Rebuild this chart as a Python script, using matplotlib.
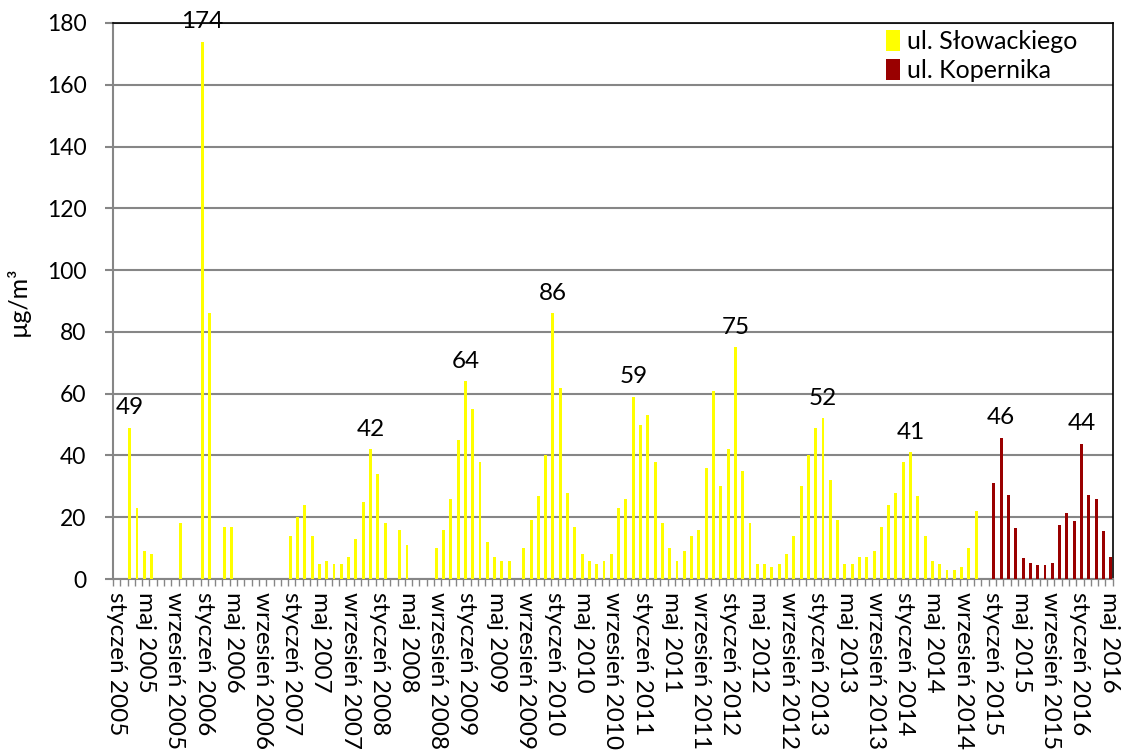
import numpy as np
import matplotlib
matplotlib.use('Agg')
import matplotlib.pyplot as plt

plt.rcParams['font.family'] = ['Lato', 'DejaVu Sans']

months = ['styczeń', 'luty', 'marzec', 'kwiecień', 'maj', 'czerwiec', 'lipiec',
          'sierpień', 'wrzesień', 'październik', 'listopad', 'grudzień']
years = list(range(2005, 2017))
labels = [m + ' ' + str(y) for y in years for m in months][:137]

N = None
slowackiego = [
    N, N, 49, 23, 9, 8, N, N, N, 18, N, N,            # 2005
    174, 86, N, 17, 17, N, N, N, N, N, N, N,          # 2006
    14, 20, 24, 14, 5, 6, 5, 5, 7, 13, 25, 42,        # 2007
    34, 18, N, 16, 11, N, N, N, 10, 16, 26, 45,       # 2008
    64, 55, 38, 12, 7, 6, 6, N, 10, 19, 27, 40,       # 2009
    86, 62, 28, 17, 8, 6, 5, 6, 8, 23, 26, 59,        # 2010
    50, 53, 38, 18, 10, 6, 9, 14, 16, 36, 61, 30,     # 2011
    42, 75, 35, 18, 5, 5, 4, 5, 8, 14, 30, 40,        # 2012
    49, 52, 32, 19, 5, 5, 7, 7, 9, 17, 24, 28,        # 2013
    38, 41, 27, 14, 6, 5, 3, 3, 4, 10, 22, N,         # 2014
    N, N, N, N, N, N, N, N, N, N, N, N,               # 2015
    N, N, N, N, N,                                    # 2016
]
kopernika = [N] * 120 + [
    31.1, 45.6, 27.2, 16.6, 6.7, 5.1, 4.4, 4.4, 5.3, 17.4, 21.3, 18.7,  # 2015
    43.7, 27.2, 25.9, 15.7, 7.2,                                        # 2016
]
slow_labeled = [2, 12, 35, 48, 60, 71, 85, 97, 109]
kop_labeled = [121, 132]

slow = np.array([np.nan if v is None else v for v in slowackiego], dtype=float)
kop = np.array([np.nan if v is None else v for v in kopernika], dtype=float)
x = np.arange(len(labels))

fig = plt.figure(figsize=(11.24, 7.54), dpi=100)
ax = fig.add_axes([0.1005, 0.232, 0.8895, 0.7375])

ax.bar(x - 0.21, slow, width=0.4, color='#FFFF00', label='ul. Słowackiego', zorder=3)
ax.bar(x + 0.21, kop, width=0.4, color='#990000', label='ul. Kopernika', zorder=3)

for i in slow_labeled:
    ax.annotate(str(int(round(slow[i]))), (x[i] - 0.21, slow[i]), xytext=(0, 7),
                textcoords='offset points', ha='center', va='bottom', fontsize=17.5)
for i in kop_labeled:
    ax.annotate(str(int(round(kop[i]))), (x[i] + 0.21, kop[i]), xytext=(0, 7),
                textcoords='offset points', ha='center', va='bottom', fontsize=17.5)

ax.set_xlim(-0.5, len(labels) - 0.5)
ax.set_ylim(0, 180)
ax.set_yticks(range(0, 181, 20))
ax.yaxis.grid(True, color='#868686', linewidth=1.5, zorder=0)
ax.set_axisbelow(True)

ax.set_xticks(x[::4])
ax.set_xticklabels(labels[::4], rotation=270, fontsize=17.5)
ax.set_xticks(np.arange(-0.5, len(labels), 1), minor=True)
ax.tick_params(axis='x', which='major', length=0, pad=9)
ax.tick_params(axis='x', which='minor', length=5, color='#868686', width=1)
ax.tick_params(axis='y', length=6, color='#868686', width=1.5, labelsize=16.5, pad=13)

for s in ['left', 'bottom']:
    ax.spines[s].set_color('#868686')
    ax.spines[s].set_linewidth(1.5)
for s in ['top', 'right']:
    ax.spines[s].set_color('black')
    ax.spines[s].set_linewidth(1.2)

ax.set_ylabel('µg/m³', fontsize=18, labelpad=12)

ax.legend(loc='upper right', frameon=False, fontsize=18, handlelength=0.55,
          handleheight=0.9, handletextpad=0.3, borderaxespad=0.0, labelspacing=0.25,
          bbox_to_anchor=(0.975, 1.005))

fig.savefig('out.png', dpi=100)
